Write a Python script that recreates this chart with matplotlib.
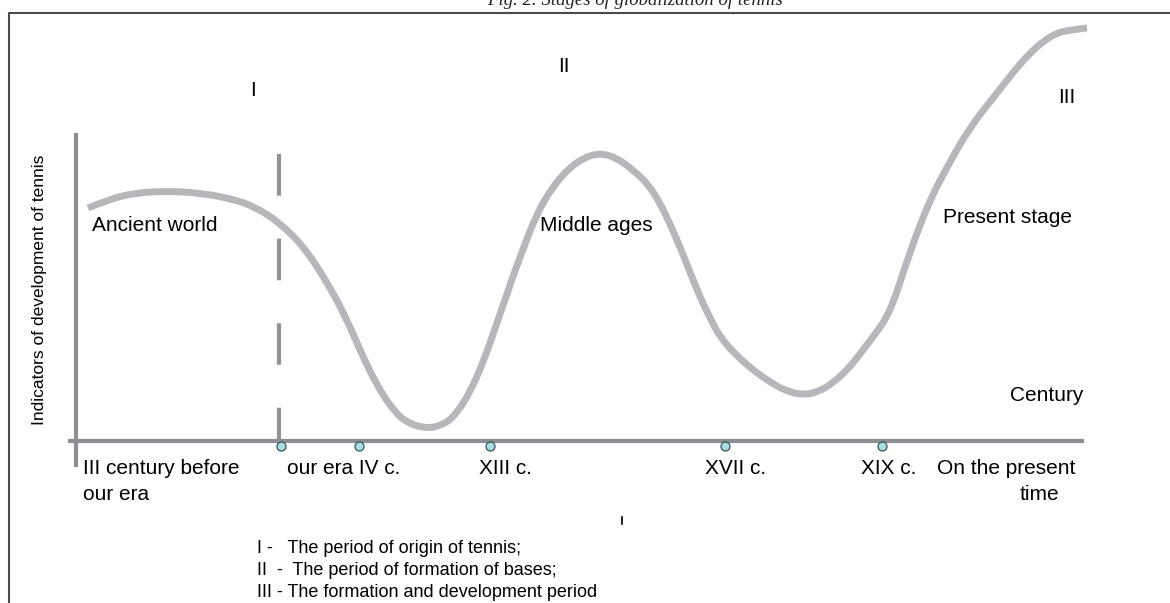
import matplotlib
matplotlib.use("Agg")
import matplotlib.pyplot as plt
from matplotlib.path import Path
from matplotlib.patches import PathPatch

# curve (pixel coords, y grows downward)
curve_x = [88, 110, 135, 167, 200, 233, 255, 279, 305, 330, 348, 363, 377, 390, 405, 427,
           445, 457, 470, 483, 497, 510, 520, 537, 552, 567, 583, 600, 617, 633, 648, 660,
           670, 680, 690, 700, 710, 720, 735, 753, 770, 786, 803, 818, 833, 850, 863, 876,
           887, 896, 903, 910, 917, 930, 947, 970, 997, 1015, 1030, 1045, 1057, 1070, 1087]
curve_y = [208, 199, 193, 191, 193, 199, 207, 222, 248, 287, 322, 357, 385, 406, 422, 429,
           424, 413, 392, 363, 323, 285, 257, 213, 188, 170, 158, 153, 158, 170, 184, 203,
           224, 247, 272, 297, 318, 337, 354, 370, 382, 391, 395, 392, 383, 367, 350, 333,
           317, 295, 273, 253, 233, 200, 167, 127, 93, 70, 53, 40, 33, 30, 28]

century_marks = [281, 359, 490, 725, 882]
tick_labels = ["our era IV c.", "XIII c.", "XVII c.", "XIX c."]
tick_label_x = [287, 479, 705, 861]

stage_names = ["I", "II", "III"]
stage_x = [250, 558, 1058]
stage_y = [96, 72, 103]

era_names = ["Ancient world", "Middle ages", "Present stage"]
era_x = [92, 540, 943]
era_y = [231, 231, 223]

legend_lines = ["I -   The period of origin of tennis;",
                "II  -  The period of formation of bases;",
                "III - The formation and development period"]

W, H = 1170, 603
fig = plt.figure(figsize=(W / 100, H / 100), dpi=100)
ax = fig.add_axes([0, 0, 1, 1])
ax.set_xlim(0, W)
ax.set_ylim(H, 0)
ax.axis("off")

plt.rcParams['font.family'] = ['Liberation Sans', 'DejaVu Sans']

# frame around figure
ax.plot([9, 9, W], [H, 13, 13], color="#4a4a4a", lw=1.5, solid_capstyle="butt")

# title, clipped by top edge like in the source
ax.text(635, 5, "Fig. 2. Stages of globalization of tennis", ha="center", va="baseline",
        fontsize=13.5, style="italic", family="Liberation Serif", color="#222222")

# axes
ax.plot([76, 76], [133, 467], color="#8e8e92", lw=3, solid_capstyle="butt")
ax.plot([68, 1084], [441, 441], color="#8e8e92", lw=3, solid_capstyle="butt")

# dashed separator
ax.plot([279, 279], [154, 490], color="#939397", lw=3, dashes=(10, 10.3))

# the development curve - read points used as quadratic bezier controls
pts = list(zip(curve_x, curve_y))
verts = [pts[0]]
codes = [Path.MOVETO]
for i in range(1, len(pts) - 1):
    mid = ((pts[i][0] + pts[i + 1][0]) / 2, (pts[i][1] + pts[i + 1][1]) / 2)
    if i == len(pts) - 2:
        mid = pts[-1]
    verts += [pts[i], mid]
    codes += [Path.CURVE3, Path.CURVE3]
ax.add_patch(PathPatch(Path(verts, codes), fill=False, edgecolor="#b6b7ba", lw=5,
                       joinstyle="round", capstyle="butt"))

# century markers
ax.plot(century_marks, [446] * len(century_marks), ls="none", marker="o", ms=6.5,
        mfc="#a8dde3", mec="#35555a", mew=0.9)

fs = 15
for name, x, y in zip(stage_names, stage_x, stage_y):
    ax.text(x, y, name, fontsize=fs, va="baseline")
for name, x, y in zip(era_names, era_x, era_y):
    ax.text(x, y, name, fontsize=fs, va="baseline")
ax.text(1010, 401, "Century", fontsize=fs, va="baseline")

ax.text(83, 474, "III century before", fontsize=fs, va="baseline")
ax.text(83, 500, "our era", fontsize=fs, va="baseline")
for lab, x in zip(tick_labels, tick_label_x):
    ax.text(x, 474, lab, fontsize=fs, va="baseline")
ax.text(937, 474, "On the present", fontsize=fs, va="baseline")
ax.text(1039, 500, "time", fontsize=fs, va="baseline", ha="center")

ax.text(40, 290, "Indicators of development of tennis", fontsize=12.5, rotation=90,
        ha="center", va="center")

for i, line in enumerate(legend_lines):
    ax.text(257, 553 + 22 * i, line, fontsize=13, va="baseline")

# stray mark from the source scan
ax.plot([622, 622], [517, 524], color="black", lw=1.2)

fig.savefig("out.png", dpi=100)
